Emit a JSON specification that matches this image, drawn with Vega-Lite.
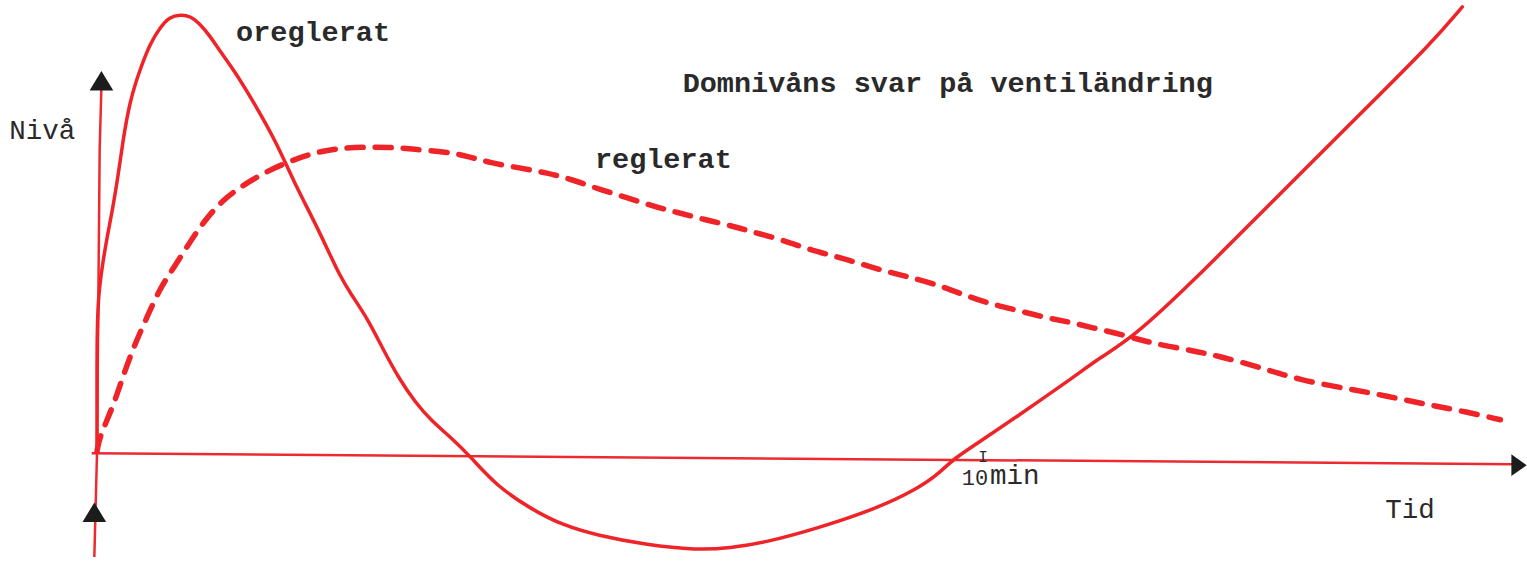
{
  "$schema": "https://vega.github.io/schema/vega-lite/v6.json",
  "autosize": {"type": "fit", "contains": "padding"},
  "width": 1527,
  "height": 562,
  "padding": 0,
  "background": "white",
  "config": {"view": {"stroke": null}},
  "datasets": {
    "curves": [
      {"series": "oreglerat", "i": 0, "t": 0, "v": 0.02},
      {"series": "oreglerat", "i": 1, "t": 0, "v": 0.37},
      {"series": "oreglerat", "i": 2, "t": 0, "v": 0.77},
      {"series": "oreglerat", "i": 3, "t": 0, "v": 1.07},
      {"series": "oreglerat", "i": 4, "t": 0.01, "v": 1.57},
      {"series": "oreglerat", "i": 5, "t": 0.06, "v": 1.9},
      {"series": "oreglerat", "i": 6, "t": 0.11, "v": 2.17},
      {"series": "oreglerat", "i": 7, "t": 0.18, "v": 2.49},
      {"series": "oreglerat", "i": 8, "t": 0.24, "v": 2.82},
      {"series": "oreglerat", "i": 9, "t": 0.29, "v": 3.15},
      {"series": "oreglerat", "i": 10, "t": 0.37, "v": 3.57},
      {"series": "oreglerat", "i": 11, "t": 0.49, "v": 3.9},
      {"series": "oreglerat", "i": 12, "t": 0.6, "v": 4.15},
      {"series": "oreglerat", "i": 13, "t": 0.71, "v": 4.31},
      {"series": "oreglerat", "i": 14, "t": 0.82, "v": 4.42},
      {"series": "oreglerat", "i": 15, "t": 0.94, "v": 4.44},
      {"series": "oreglerat", "i": 16, "t": 1.05, "v": 4.43},
      {"series": "oreglerat", "i": 17, "t": 1.16, "v": 4.35},
      {"series": "oreglerat", "i": 18, "t": 1.28, "v": 4.22},
      {"series": "oreglerat", "i": 19, "t": 1.39, "v": 4.07},
      {"series": "oreglerat", "i": 20, "t": 1.53, "v": 3.9},
      {"series": "oreglerat", "i": 21, "t": 1.76, "v": 3.57},
      {"series": "oreglerat", "i": 22, "t": 2.03, "v": 3.14},
      {"series": "oreglerat", "i": 23, "t": 2.21, "v": 2.77},
      {"series": "oreglerat", "i": 24, "t": 2.44, "v": 2.37},
      {"series": "oreglerat", "i": 25, "t": 2.6, "v": 2.07},
      {"series": "oreglerat", "i": 26, "t": 2.74, "v": 1.8},
      {"series": "oreglerat", "i": 27, "t": 2.86, "v": 1.62},
      {"series": "oreglerat", "i": 28, "t": 3.05, "v": 1.37},
      {"series": "oreglerat", "i": 29, "t": 3.23, "v": 1.05},
      {"series": "oreglerat", "i": 30, "t": 3.42, "v": 0.74},
      {"series": "oreglerat", "i": 31, "t": 3.59, "v": 0.52},
      {"series": "oreglerat", "i": 32, "t": 3.76, "v": 0.34},
      {"series": "oreglerat", "i": 33, "t": 4.02, "v": 0.14},
      {"series": "oreglerat", "i": 34, "t": 4.21, "v": -0.03},
      {"series": "oreglerat", "i": 35, "t": 4.51, "v": -0.33},
      {"series": "oreglerat", "i": 36, "t": 4.89, "v": -0.56},
      {"series": "oreglerat", "i": 37, "t": 5.26, "v": -0.73},
      {"series": "oreglerat", "i": 38, "t": 5.64, "v": -0.83},
      {"series": "oreglerat", "i": 39, "t": 6.21, "v": -0.93},
      {"series": "oreglerat", "i": 40, "t": 6.77, "v": -0.98},
      {"series": "oreglerat", "i": 41, "t": 7.14, "v": -0.96},
      {"series": "oreglerat", "i": 42, "t": 7.56, "v": -0.9},
      {"series": "oreglerat", "i": 43, "t": 8.13, "v": -0.76},
      {"series": "oreglerat", "i": 44, "t": 8.8, "v": -0.56},
      {"series": "oreglerat", "i": 45, "t": 9.26, "v": -0.36},
      {"series": "oreglerat", "i": 46, "t": 9.51, "v": -0.2},
      {"series": "oreglerat", "i": 47, "t": 9.66, "v": -0.06},
      {"series": "oreglerat", "i": 48, "t": 10.0, "v": 0.14},
      {"series": "oreglerat", "i": 49, "t": 10.38, "v": 0.37},
      {"series": "oreglerat", "i": 50, "t": 11.02, "v": 0.77},
      {"series": "oreglerat", "i": 51, "t": 11.32, "v": 0.97},
      {"series": "oreglerat", "i": 52, "t": 11.69, "v": 1.17},
      {"series": "oreglerat", "i": 53, "t": 12.37, "v": 1.74},
      {"series": "oreglerat", "i": 54, "t": 13.21, "v": 2.5},
      {"series": "oreglerat", "i": 55, "t": 14.33, "v": 3.5},
      {"series": "oreglerat", "i": 56, "t": 15.08, "v": 4.17},
      {"series": "oreglerat", "i": 57, "t": 15.41, "v": 4.52},
      {"series": "reglerat", "i": 0, "t": 0, "v": 0.02},
      {"series": "reglerat", "i": 1, "t": 0.03, "v": 0.17},
      {"series": "reglerat", "i": 2, "t": 0.18, "v": 0.47},
      {"series": "reglerat", "i": 3, "t": 0.29, "v": 0.77},
      {"series": "reglerat", "i": 4, "t": 0.41, "v": 1.07},
      {"series": "reglerat", "i": 5, "t": 0.56, "v": 1.37},
      {"series": "reglerat", "i": 6, "t": 0.71, "v": 1.67},
      {"series": "reglerat", "i": 7, "t": 0.86, "v": 1.87},
      {"series": "reglerat", "i": 8, "t": 1.05, "v": 2.14},
      {"series": "reglerat", "i": 9, "t": 1.2, "v": 2.34},
      {"series": "reglerat", "i": 10, "t": 1.42, "v": 2.57},
      {"series": "reglerat", "i": 11, "t": 1.69, "v": 2.74},
      {"series": "reglerat", "i": 12, "t": 1.95, "v": 2.87},
      {"series": "reglerat", "i": 13, "t": 2.21, "v": 2.97},
      {"series": "reglerat", "i": 14, "t": 2.48, "v": 3.05},
      {"series": "reglerat", "i": 15, "t": 2.74, "v": 3.09},
      {"series": "reglerat", "i": 16, "t": 3.0, "v": 3.1},
      {"series": "reglerat", "i": 17, "t": 3.31, "v": 3.1},
      {"series": "reglerat", "i": 18, "t": 3.57, "v": 3.08},
      {"series": "reglerat", "i": 19, "t": 3.95, "v": 3.05},
      {"series": "reglerat", "i": 20, "t": 4.18, "v": 3.01},
      {"series": "reglerat", "i": 21, "t": 4.44, "v": 2.94},
      {"series": "reglerat", "i": 22, "t": 4.77, "v": 2.89},
      {"series": "reglerat", "i": 23, "t": 5.08, "v": 2.84},
      {"series": "reglerat", "i": 24, "t": 5.37, "v": 2.77},
      {"series": "reglerat", "i": 25, "t": 5.68, "v": 2.67},
      {"series": "reglerat", "i": 26, "t": 5.98, "v": 2.59},
      {"series": "reglerat", "i": 27, "t": 6.28, "v": 2.5},
      {"series": "reglerat", "i": 28, "t": 6.55, "v": 2.44},
      {"series": "reglerat", "i": 29, "t": 6.84, "v": 2.37},
      {"series": "reglerat", "i": 30, "t": 7.18, "v": 2.3},
      {"series": "reglerat", "i": 31, "t": 7.4, "v": 2.24},
      {"series": "reglerat", "i": 32, "t": 7.71, "v": 2.17},
      {"series": "reglerat", "i": 33, "t": 8.01, "v": 2.07},
      {"series": "reglerat", "i": 34, "t": 8.31, "v": 2.0},
      {"series": "reglerat", "i": 35, "t": 8.58, "v": 1.93},
      {"series": "reglerat", "i": 36, "t": 8.87, "v": 1.85},
      {"series": "reglerat", "i": 37, "t": 9.14, "v": 1.79},
      {"series": "reglerat", "i": 38, "t": 9.44, "v": 1.72},
      {"series": "reglerat", "i": 39, "t": 9.74, "v": 1.62},
      {"series": "reglerat", "i": 40, "t": 10.05, "v": 1.52},
      {"series": "reglerat", "i": 41, "t": 10.38, "v": 1.45},
      {"series": "reglerat", "i": 42, "t": 10.72, "v": 1.37},
      {"series": "reglerat", "i": 43, "t": 10.98, "v": 1.33},
      {"series": "reglerat", "i": 44, "t": 11.24, "v": 1.27},
      {"series": "reglerat", "i": 45, "t": 11.58, "v": 1.2},
      {"series": "reglerat", "i": 46, "t": 11.88, "v": 1.12},
      {"series": "reglerat", "i": 47, "t": 12.3, "v": 1.05},
      {"series": "reglerat", "i": 48, "t": 12.64, "v": 0.99},
      {"series": "reglerat", "i": 49, "t": 13.13, "v": 0.87},
      {"series": "reglerat", "i": 50, "t": 13.58, "v": 0.74},
      {"series": "reglerat", "i": 51, "t": 14.14, "v": 0.65},
      {"series": "reglerat", "i": 52, "t": 14.56, "v": 0.58},
      {"series": "reglerat", "i": 53, "t": 14.97, "v": 0.5},
      {"series": "reglerat", "i": 54, "t": 15.35, "v": 0.44},
      {"series": "reglerat", "i": 55, "t": 15.84, "v": 0.34}
    ],
    "axes": [
      {"axis": "Tid", "i": 0, "t": -0.06, "v": 0.0},
      {"axis": "Tid", "i": 1, "t": 15.98, "v": -0.11},
      {"axis": "Nivå", "i": 0, "t": 0.05, "v": 3.72},
      {"axis": "Nivå", "i": 1, "t": 0.03, "v": 3.07},
      {"axis": "Nivå", "i": 2, "t": 0.0, "v": 0.0},
      {"axis": "Nivå", "i": 3, "t": -0.03, "v": -1.05}
    ],
    "arrows": [
      {"dir": "up", "t": 0.05, "v": 3.77},
      {"dir": "up", "t": -0.03, "v": -0.6},
      {"dir": "right", "t": 16.05, "v": -0.12}
    ],
    "labels": [
      {"kind": "bold", "label": "oreglerat", "t": 1.57, "v": 4.18},
      {"kind": "bold", "label": "reglerat", "t": 5.62, "v": 2.89},
      {"kind": "bold", "label": "Domnivåns svar på ventiländring", "t": 6.61, "v": 3.66},
      {"kind": "plain", "label": "Nivå", "t": -0.99, "v": 3.18},
      {"kind": "plain", "label": "Tid", "t": 14.54, "v": -0.66},
      {"kind": "plain", "label": "min", "t": 10.08, "v": -0.31},
      {"kind": "small", "label": "10", "t": 9.76, "v": -0.32}
    ],
    "ticks": [
      {"label": "I", "t": 10.0, "v": -0.085}
    ]
  },
  "encoding": {
    "x": {"field": "t", "type": "quantitative", "scale": {"domain": [-1.0948, 16.14], "nice": false, "zero": false}, "axis": null},
    "y": {"field": "v", "type": "quantitative", "scale": {"domain": [-1.05, 4.57], "nice": false, "zero": false}, "axis": null}
  },
  "layer": [
    {
      "data": {"name": "axes"},
      "mark": {"type": "line", "color": "#ec2a2f", "strokeWidth": 2.5, "interpolate": "linear"},
      "encoding": {"detail": {"field": "axis"}, "order": {"field": "i", "type": "quantitative"}}
    },
    {
      "data": {"name": "curves"},
      "transform": [{"filter": "datum.series === 'reglerat'"}],
      "mark": {"type": "line", "color": "#ee2429", "strokeWidth": 5.5, "strokeDash": [16, 12], "strokeCap": "round", "interpolate": "basis"},
      "encoding": {"order": {"field": "i", "type": "quantitative"}}
    },
    {
      "data": {"name": "curves"},
      "transform": [{"filter": "datum.series === 'oreglerat'"}],
      "mark": {"type": "line", "color": "#ee2429", "strokeWidth": 3.5, "strokeCap": "round", "interpolate": "basis"},
      "encoding": {"order": {"field": "i", "type": "quantitative"}}
    },
    {
      "data": {"name": "arrows"},
      "transform": [{"filter": "datum.dir === 'up'"}],
      "mark": {"type": "point", "shape": "M-1,0.8L0,-0.85L1,0.8Z", "filled": true, "color": "#1c1c1c", "size": 560, "opacity": 1}
    },
    {
      "data": {"name": "arrows"},
      "transform": [{"filter": "datum.dir === 'right'"}],
      "mark": {"type": "point", "shape": "M-0.7,-1L0.7,0L-0.7,1Z", "filled": true, "color": "#1c1c1c", "size": 480, "opacity": 1}
    },
    {
      "data": {"name": "labels"},
      "transform": [{"filter": "datum.kind === 'bold'"}],
      "mark": {"type": "text", "font": "Liberation Mono", "fontWeight": "bold", "fontSize": 28.5, "align": "left", "baseline": "alphabetic", "color": "#2a2a2a"},
      "encoding": {"text": {"field": "label"}}
    },
    {
      "data": {"name": "labels"},
      "transform": [{"filter": "datum.kind === 'plain'"}],
      "mark": {"type": "text", "font": "Liberation Mono", "fontSize": 27.5, "align": "left", "baseline": "alphabetic", "color": "#2a2a2a"},
      "encoding": {"text": {"field": "label"}}
    },
    {
      "data": {"name": "labels"},
      "transform": [{"filter": "datum.kind === 'small'"}],
      "mark": {"type": "text", "font": "Liberation Mono", "fontSize": 22, "align": "left", "baseline": "alphabetic", "color": "#2a2a2a"},
      "encoding": {"text": {"field": "label"}}
    },
    {
      "data": {"name": "ticks"},
      "mark": {"type": "text", "font": "Liberation Mono", "fontSize": 16, "align": "center", "baseline": "alphabetic", "color": "#2a2a2a"},
      "encoding": {"text": {"field": "label"}}
    }
  ]
}
